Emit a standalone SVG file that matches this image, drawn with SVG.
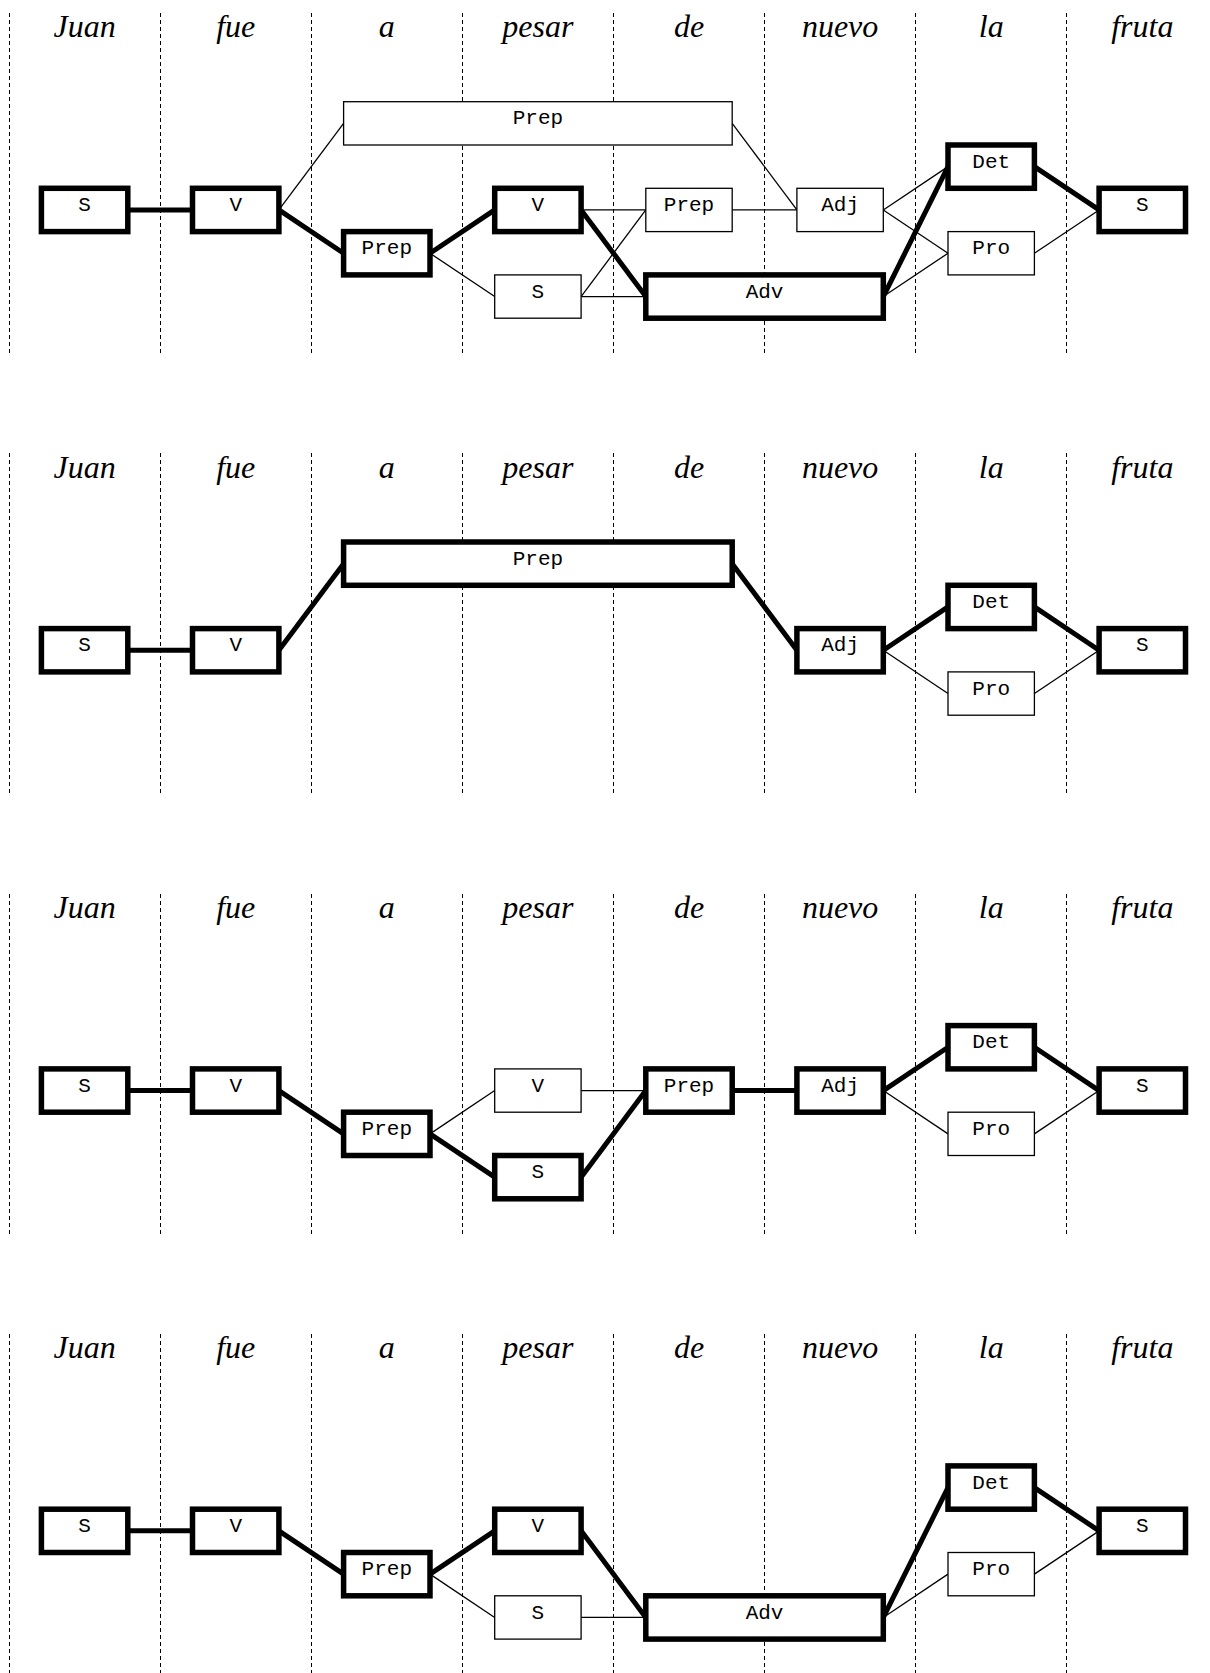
<svg xmlns="http://www.w3.org/2000/svg" width="1210" height="1673" viewBox="0 0 1210 1673">
<style>
.dash{stroke:#000;stroke-width:1;stroke-dasharray:4 3;fill:none}
.word{font-family:"Liberation Serif","Times New Roman",serif;font-style:italic;font-size:32px;text-anchor:middle;fill:#000}
.lbl{font-family:"Liberation Mono","Courier New",monospace;font-size:21px;text-anchor:middle;fill:#000}
.nt{fill:#fff;stroke:#000;stroke-width:1.3}
.nk{fill:#fff;stroke:#000;stroke-width:5.5}
.c1{stroke:#000;stroke-width:1.3;fill:none}
.c5{stroke:#000;stroke-width:5;fill:none}
</style>
<rect x="0" y="0" width="1210" height="1673" fill="#fff"/>
<g id="grid">
<path class="dash" d="M9.5 13V355M160.5 13V355M311.5 13V355M462.5 13V355M613.5 13V355M764.5 13V355M915.5 13V355M1066.5 13V355"/>
<path class="dash" d="M9.5 453V795M160.5 453V795M311.5 453V795M462.5 453V795M613.5 453V795M764.5 453V795M915.5 453V795M1066.5 453V795"/>
<path class="dash" d="M9.5 894V1236M160.5 894V1236M311.5 894V1236M462.5 894V1236M613.5 894V1236M764.5 894V1236M915.5 894V1236M1066.5 894V1236"/>
<path class="dash" d="M9.5 1334V1673M160.5 1334V1673M311.5 1334V1673M462.5 1334V1673M613.5 1334V1673M764.5 1334V1673M915.5 1334V1673M1066.5 1334V1673"/>
</g>
<g id="words">
<g><text class="word" x="84.6" y="37.3">Juan</text><text class="word" x="235.7" y="37.3">fue</text><text class="word" x="386.8" y="37.3">a</text><text class="word" x="537.9" y="37.3">pesar</text><text class="word" x="689" y="37.3">de</text><text class="word" x="840.1" y="37.3">nuevo</text><text class="word" x="991.2" y="37.3">la</text><text class="word" x="1142.3" y="37.3">fruta</text></g>
<g><text class="word" x="84.6" y="477.6">Juan</text><text class="word" x="235.7" y="477.6">fue</text><text class="word" x="386.8" y="477.6">a</text><text class="word" x="537.9" y="477.6">pesar</text><text class="word" x="689" y="477.6">de</text><text class="word" x="840.1" y="477.6">nuevo</text><text class="word" x="991.2" y="477.6">la</text><text class="word" x="1142.3" y="477.6">fruta</text></g>
<g><text class="word" x="84.6" y="917.9">Juan</text><text class="word" x="235.7" y="917.9">fue</text><text class="word" x="386.8" y="917.9">a</text><text class="word" x="537.9" y="917.9">pesar</text><text class="word" x="689" y="917.9">de</text><text class="word" x="840.1" y="917.9">nuevo</text><text class="word" x="991.2" y="917.9">la</text><text class="word" x="1142.3" y="917.9">fruta</text></g>
<g><text class="word" x="84.6" y="1358.2">Juan</text><text class="word" x="235.7" y="1358.2">fue</text><text class="word" x="386.8" y="1358.2">a</text><text class="word" x="537.9" y="1358.2">pesar</text><text class="word" x="689" y="1358.2">de</text><text class="word" x="840.1" y="1358.2">nuevo</text><text class="word" x="991.2" y="1358.2">la</text><text class="word" x="1142.3" y="1358.2">fruta</text></g>
</g>
<g id="connectors">
<line class="c5" x1="127.8" y1="209.95" x2="192.5" y2="209.95"/>
<line class="c1" x1="278.9" y1="209.95" x2="343.6" y2="123.35"/>
<line class="c5" x1="278.9" y1="209.95" x2="343.6" y2="253.25"/>
<line class="c5" x1="430" y1="253.25" x2="494.7" y2="209.95"/>
<line class="c1" x1="430" y1="253.25" x2="494.7" y2="296.55"/>
<line class="c1" x1="581.1" y1="209.95" x2="645.8" y2="209.95"/>
<line class="c5" x1="581.1" y1="209.95" x2="645.8" y2="296.55"/>
<line class="c1" x1="581.1" y1="296.55" x2="645.8" y2="209.95"/>
<line class="c1" x1="581.1" y1="296.55" x2="645.8" y2="296.55"/>
<line class="c1" x1="732.2" y1="123.35" x2="796.9" y2="209.95"/>
<line class="c1" x1="732.2" y1="209.95" x2="796.9" y2="209.95"/>
<line class="c1" x1="883.3" y1="209.95" x2="948" y2="166.65"/>
<line class="c1" x1="883.3" y1="209.95" x2="948" y2="253.25"/>
<line class="c5" x1="883.3" y1="296.55" x2="948" y2="166.65"/>
<line class="c1" x1="883.3" y1="296.55" x2="948" y2="253.25"/>
<line class="c5" x1="1034.4" y1="166.65" x2="1099.1" y2="209.95"/>
<line class="c1" x1="1034.4" y1="253.25" x2="1099.1" y2="209.95"/>

<line class="c5" x1="127.8" y1="650.25" x2="192.5" y2="650.25"/>
<line class="c5" x1="278.9" y1="650.25" x2="343.6" y2="563.65"/>
<line class="c5" x1="732.2" y1="563.65" x2="796.9" y2="650.25"/>
<line class="c5" x1="883.3" y1="650.25" x2="948" y2="606.95"/>
<line class="c1" x1="883.3" y1="650.25" x2="948" y2="693.55"/>
<line class="c5" x1="1034.4" y1="606.95" x2="1099.1" y2="650.25"/>
<line class="c1" x1="1034.4" y1="693.55" x2="1099.1" y2="650.25"/>

<line class="c5" x1="127.8" y1="1090.55" x2="192.5" y2="1090.55"/>
<line class="c5" x1="278.9" y1="1090.55" x2="343.6" y2="1133.85"/>
<line class="c1" x1="430" y1="1133.85" x2="494.7" y2="1090.55"/>
<line class="c5" x1="430" y1="1133.85" x2="494.7" y2="1177.15"/>
<line class="c1" x1="581.1" y1="1090.55" x2="645.8" y2="1090.55"/>
<line class="c5" x1="581.1" y1="1177.15" x2="645.8" y2="1090.55"/>
<line class="c5" x1="732.2" y1="1090.55" x2="796.9" y2="1090.55"/>
<line class="c5" x1="883.3" y1="1090.55" x2="948" y2="1047.25"/>
<line class="c1" x1="883.3" y1="1090.55" x2="948" y2="1133.85"/>
<line class="c5" x1="1034.4" y1="1047.25" x2="1099.1" y2="1090.55"/>
<line class="c1" x1="1034.4" y1="1133.85" x2="1099.1" y2="1090.55"/>

<line class="c5" x1="127.8" y1="1530.85" x2="192.5" y2="1530.85"/>
<line class="c5" x1="278.9" y1="1530.85" x2="343.6" y2="1574.15"/>
<line class="c5" x1="430" y1="1574.15" x2="494.7" y2="1530.85"/>
<line class="c1" x1="430" y1="1574.15" x2="494.7" y2="1617.45"/>
<line class="c5" x1="581.1" y1="1530.85" x2="645.8" y2="1617.45"/>
<line class="c1" x1="581.1" y1="1617.45" x2="645.8" y2="1617.45"/>
<line class="c5" x1="883.3" y1="1617.45" x2="948" y2="1487.55"/>
<line class="c1" x1="883.3" y1="1617.45" x2="948" y2="1574.15"/>
<line class="c5" x1="1034.4" y1="1487.55" x2="1099.1" y2="1530.85"/>
<line class="c1" x1="1034.4" y1="1574.15" x2="1099.1" y2="1530.85"/>
</g>
<g id="p1-S1"><rect class="nk" x="41.4" y="188.3" width="86.4" height="43.3"/><text class="lbl" x="84.6" y="211">S</text></g>
<g id="p1-V1"><rect class="nk" x="192.5" y="188.3" width="86.4" height="43.3"/><text class="lbl" x="235.7" y="211">V</text></g>
<g id="p1-PrepLong"><rect class="nt" x="343.6" y="101.7" width="388.6" height="43.3"/><text class="lbl" x="537.9" y="124.4">Prep</text></g>
<g id="p1-Prep1"><rect class="nk" x="343.6" y="231.6" width="86.4" height="43.3"/><text class="lbl" x="386.8" y="254.3">Prep</text></g>
<g id="p1-V2"><rect class="nk" x="494.7" y="188.3" width="86.4" height="43.3"/><text class="lbl" x="537.9" y="211">V</text></g>
<g id="p1-S2"><rect class="nt" x="494.7" y="274.9" width="86.4" height="43.3"/><text class="lbl" x="537.9" y="297.6">S</text></g>
<g id="p1-Prep2"><rect class="nt" x="645.8" y="188.3" width="86.4" height="43.3"/><text class="lbl" x="689" y="211">Prep</text></g>
<g id="p1-Adj"><rect class="nt" x="796.9" y="188.3" width="86.4" height="43.3"/><text class="lbl" x="840.1" y="211">Adj</text></g>
<g id="p1-Adv"><rect class="nk" x="645.8" y="274.9" width="237.5" height="43.3"/><text class="lbl" x="764.55" y="297.6">Adv</text></g>
<g id="p1-Det"><rect class="nk" x="948" y="145" width="86.4" height="43.3"/><text class="lbl" x="991.2" y="167.7">Det</text></g>
<g id="p1-Pro"><rect class="nt" x="948" y="231.6" width="86.4" height="43.3"/><text class="lbl" x="991.2" y="254.3">Pro</text></g>
<g id="p1-S3"><rect class="nk" x="1099.1" y="188.3" width="86.4" height="43.3"/><text class="lbl" x="1142.3" y="211">S</text></g>

<g id="p2-S1"><rect class="nk" x="41.4" y="628.6" width="86.4" height="43.3"/><text class="lbl" x="84.6" y="651.3">S</text></g>
<g id="p2-V1"><rect class="nk" x="192.5" y="628.6" width="86.4" height="43.3"/><text class="lbl" x="235.7" y="651.3">V</text></g>
<g id="p2-PrepLong"><rect class="nk" x="343.6" y="542" width="388.6" height="43.3"/><text class="lbl" x="537.9" y="564.7">Prep</text></g>
<g id="p2-Adj"><rect class="nk" x="796.9" y="628.6" width="86.4" height="43.3"/><text class="lbl" x="840.1" y="651.3">Adj</text></g>
<g id="p2-Det"><rect class="nk" x="948" y="585.3" width="86.4" height="43.3"/><text class="lbl" x="991.2" y="608">Det</text></g>
<g id="p2-Pro"><rect class="nt" x="948" y="671.9" width="86.4" height="43.3"/><text class="lbl" x="991.2" y="694.6">Pro</text></g>
<g id="p2-S3"><rect class="nk" x="1099.1" y="628.6" width="86.4" height="43.3"/><text class="lbl" x="1142.3" y="651.3">S</text></g>

<g id="p3-S1"><rect class="nk" x="41.4" y="1068.9" width="86.4" height="43.3"/><text class="lbl" x="84.6" y="1091.6">S</text></g>
<g id="p3-V1"><rect class="nk" x="192.5" y="1068.9" width="86.4" height="43.3"/><text class="lbl" x="235.7" y="1091.6">V</text></g>
<g id="p3-Prep1"><rect class="nk" x="343.6" y="1112.2" width="86.4" height="43.3"/><text class="lbl" x="386.8" y="1134.9">Prep</text></g>
<g id="p3-V2"><rect class="nt" x="494.7" y="1068.9" width="86.4" height="43.3"/><text class="lbl" x="537.9" y="1091.6">V</text></g>
<g id="p3-S2"><rect class="nk" x="494.7" y="1155.5" width="86.4" height="43.3"/><text class="lbl" x="537.9" y="1178.2">S</text></g>
<g id="p3-Prep2"><rect class="nk" x="645.8" y="1068.9" width="86.4" height="43.3"/><text class="lbl" x="689" y="1091.6">Prep</text></g>
<g id="p3-Adj"><rect class="nk" x="796.9" y="1068.9" width="86.4" height="43.3"/><text class="lbl" x="840.1" y="1091.6">Adj</text></g>
<g id="p3-Det"><rect class="nk" x="948" y="1025.6" width="86.4" height="43.3"/><text class="lbl" x="991.2" y="1048.3">Det</text></g>
<g id="p3-Pro"><rect class="nt" x="948" y="1112.2" width="86.4" height="43.3"/><text class="lbl" x="991.2" y="1134.9">Pro</text></g>
<g id="p3-S3"><rect class="nk" x="1099.1" y="1068.9" width="86.4" height="43.3"/><text class="lbl" x="1142.3" y="1091.6">S</text></g>

<g id="p4-S1"><rect class="nk" x="41.4" y="1509.2" width="86.4" height="43.3"/><text class="lbl" x="84.6" y="1531.9">S</text></g>
<g id="p4-V1"><rect class="nk" x="192.5" y="1509.2" width="86.4" height="43.3"/><text class="lbl" x="235.7" y="1531.9">V</text></g>
<g id="p4-Prep1"><rect class="nk" x="343.6" y="1552.5" width="86.4" height="43.3"/><text class="lbl" x="386.8" y="1575.2">Prep</text></g>
<g id="p4-V2"><rect class="nk" x="494.7" y="1509.2" width="86.4" height="43.3"/><text class="lbl" x="537.9" y="1531.9">V</text></g>
<g id="p4-S2"><rect class="nt" x="494.7" y="1595.8" width="86.4" height="43.3"/><text class="lbl" x="537.9" y="1618.5">S</text></g>
<g id="p4-Adv"><rect class="nk" x="645.8" y="1595.8" width="237.5" height="43.3"/><text class="lbl" x="764.55" y="1618.5">Adv</text></g>
<g id="p4-Det"><rect class="nk" x="948" y="1465.9" width="86.4" height="43.3"/><text class="lbl" x="991.2" y="1488.6">Det</text></g>
<g id="p4-Pro"><rect class="nt" x="948" y="1552.5" width="86.4" height="43.3"/><text class="lbl" x="991.2" y="1575.2">Pro</text></g>
<g id="p4-S3"><rect class="nk" x="1099.1" y="1509.2" width="86.4" height="43.3"/><text class="lbl" x="1142.3" y="1531.9">S</text></g>
</svg>
